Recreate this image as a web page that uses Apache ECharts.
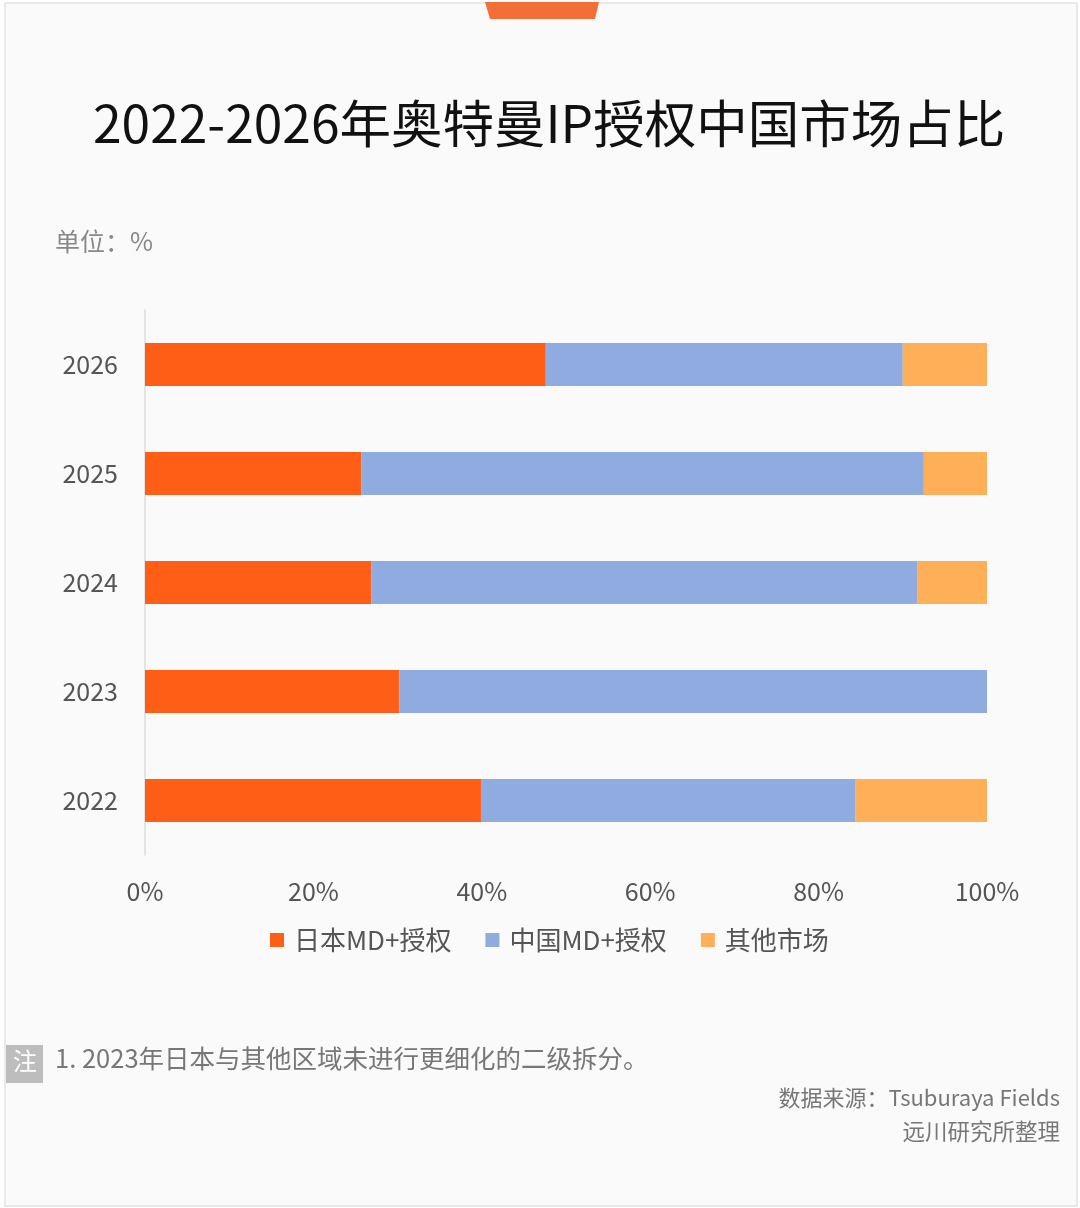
<!DOCTYPE html>
<html>
<head>
<meta charset="utf-8">
<script src="https://cdn.jsdelivr.net/npm/echarts@6/dist/echarts.min.js"></script>
<style>html,body{margin:0;padding:0;background:#ffffff;}#c{width:1080px;height:1208px;}</style>
</head>
<body>
<div id="c"></div>
<script>
const categories = ['2022', '2023', '2024', '2025', '2026'];
const japanMD = [39.9, 30.2, 26.9, 25.7, 47.6];
const chinaMD = [44.5, 69.8, 64.8, 66.8, 42.4];
const otherMarket = [15.6, 0, 8.3, 7.5, 10.0];
const seriesNames = ['日本MD+授权', '中国MD+授权', '其他市场'];
const xTicks = [0, 20, 40, 60, 80, 100];

const FONT = '"Noto Sans CJK SC", "Noto Sans", sans-serif';
const chart = echarts.init(document.getElementById('c'), null, {renderer: 'canvas'});

const option = {
  backgroundColor: '#ffffff',
  textStyle: {fontFamily: FONT},
  graphic: [
    {type: 'rect', z: -10, shape: {x: 5, y: 3, width: 1072, height: 1203}, style: {fill: '#fafafa', stroke: '#e4e4e4', lineWidth: 1.5}},
    {type: 'polygon', shape: {points: [[485, 2], [599, 2], [595, 19], [490, 19]]}, style: {fill: '#f46f37'}},
    {type: 'text', left: 93, top: 98, style: {text: '2022-2026年奥特曼IP授权中国市场占比', font: '51.5px ' + FONT, fill: '#111111'}},
    {type: 'text', left: 55, top: 229, style: {text: '单位：%', font: '25px ' + FONT, fill: '#888888'}},
    {type: 'rect', shape: {x: 6, y: 1045, width: 37, height: 38}, style: {fill: '#bdbdbd'}},
    {type: 'text', left: 13, top: 1049, style: {text: '注', font: '24px ' + FONT, fill: '#ffffff'}},
    {type: 'text', left: 55, top: 1046, style: {text: '1. 2023年日本与其他区域未进行更细化的二级拆分。', font: '25.5px ' + FONT, fill: '#777777'}},
    {type: 'text', right: 20, top: 1087, style: {text: '数据来源：Tsuburaya Fields', font: '22px ' + FONT, fill: '#777777', align: 'right'}},
    {type: 'text', right: 20, top: 1120, style: {text: '远川研究所整理', font: '22.5px ' + FONT, fill: '#777777', align: 'right'}}
  ],
  legend: {
    data: seriesNames,
    left: 265,
    top: 922,
    itemWidth: 14,
    itemHeight: 14,
    itemGap: 34,
    icon: 'rect',
    textStyle: {fontSize: 26, color: '#555555', fontFamily: FONT, padding: [0, 0, 0, 5]}
  },
  grid: {left: 145, right: 93, top: 310, bottom: 353, containLabel: false},
  xAxis: {
    type: 'value', min: 0, max: 100, interval: 20,
    axisLine: {show: false}, axisTick: {show: false}, splitLine: {show: false},
    axisLabel: {formatter: function (v) { return xTicks.indexOf(v) >= 0 ? v + '%' : ''; }, fontSize: 25, color: '#555555', margin: 24, fontFamily: FONT}
  },
  yAxis: {
    type: 'category', data: categories,
    axisLine: {show: true, lineStyle: {color: '#dddddd', width: 1.5}},
    axisTick: {show: false},
    axisLabel: {fontSize: 25, color: '#555555', margin: 27, fontFamily: FONT}
  },
  series: [
    {name: seriesNames[0], type: 'bar', stack: 'total', data: japanMD, barWidth: 43, itemStyle: {color: '#ff5e17'}},
    {name: seriesNames[1], type: 'bar', stack: 'total', data: chinaMD, barWidth: 43, itemStyle: {color: '#8fabe0'}},
    {name: seriesNames[2], type: 'bar', stack: 'total', data: otherMarket, barWidth: 43, itemStyle: {color: '#ffaf58'}}
  ]
};
chart.setOption(option);
</script>
</body>
</html>
